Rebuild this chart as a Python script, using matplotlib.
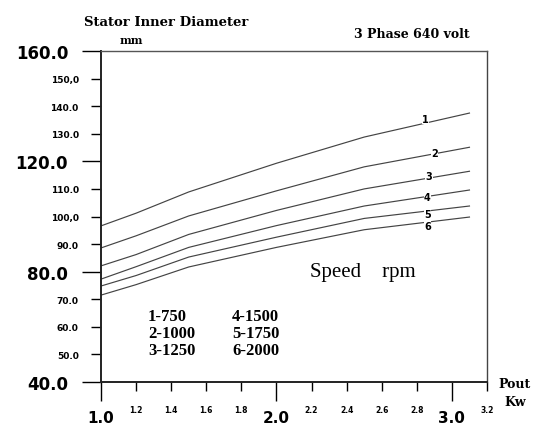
import matplotlib
matplotlib.use("Agg")
import matplotlib.pyplot as plt
import numpy as np

# ---- data ----
pout_kw = [1.0, 1.2, 1.5, 2.0, 2.5, 3.1]
d_750  = [96.6, 101.2, 108.9, 119.3, 128.8, 137.5]
d_1000 = [88.6, 93.0, 100.2, 109.3, 118.0, 125.1]
d_1250 = [82.1, 86.2, 93.5, 102.2, 110.0, 116.4]
d_1500 = [77.3, 81.8, 88.8, 96.7, 103.8, 109.6]
d_1750 = [74.8, 78.6, 85.3, 92.5, 99.3, 103.8]
d_2000 = [71.5, 75.3, 81.7, 88.8, 95.2, 99.8]
curve_ids = ["1", "2", "3", "4", "5", "6"]
legend_left = ["1-750", "2-1000", "3-1250"]
legend_right = ["4-1500", "5-1750", "6-2000"]

y_major = [40, 80, 120, 160]
y_major_labels = ["40.0", "80.0", "120.0", "160.0"]
y_minor = [50, 60, 70, 90, 100, 110, 130, 140, 150]
y_minor_labels = ["50.0", "60.0", "70.0", "90.0", "100,0", "110.0", "130.0", "140.0", "150,0"]
x_major = [1.0, 2.0, 3.0]
x_major_labels = ["1.0", "2.0", "3.0"]
x_minor = [1.2, 1.4, 1.6, 1.8, 2.2, 2.4, 2.6, 2.8, 3.2]
x_minor_labels = ["1.2", "1.4", "1.6", "1.8", "2.2", "2.4", "2.6", "2.8", "3.2"]

series = [d_750, d_1000, d_1250, d_1500, d_1750, d_2000]
label_pos = [(2.85, 135.4), (2.90, 123.0), (2.87, 114.7), (2.86, 107.1), (2.86, 100.9), (2.86, 96.6)]

fig = plt.figure(figsize=(5.38, 4.27), dpi=100)
ax = fig.add_axes([101/538, 1-383/427, (487-101)/538, (383-52)/427])
ax.set_xlim(1.0, 3.2)
ax.set_ylim(40, 160)

for ys in series:
    ax.plot(pout_kw, ys, color="#444444", lw=0.85)

for cid, (lx, ly) in zip(curve_ids, label_pos):
    ax.text(lx, ly, cid, fontsize=7, fontweight="bold", ha="center", va="center",
            family="DejaVu Sans",
            bbox=dict(facecolor="white", edgecolor="none", pad=0.3))

legend_y = [63.9, 57.8, 51.5]
for t, yy in zip(legend_left, legend_y):
    ax.text(1.268, yy, t, fontsize=12, family="Liberation Serif", fontweight="bold",
            ha="left", va="center")
for t, yy in zip(legend_right, legend_y):
    ax.text(1.747, yy, t, fontsize=12, family="Liberation Serif", fontweight="bold",
            ha="left", va="center")
ax.text(2.49, 79.9, "Speed    rpm", fontsize=15, family="Liberation Serif",
        ha="center", va="center")

# ticks
ax.set_yticks(y_major)
ax.set_yticklabels(y_major_labels, fontsize=12, fontweight="bold")
ax.set_yticks(y_minor, minor=True)
ax.set_yticklabels(y_minor_labels, minor=True, fontsize=6.5, fontweight="bold")
ax.set_xticks(x_major)
ax.set_xticklabels(x_major_labels, fontsize=11, fontweight="bold")
ax.set_xticks(x_minor, minor=True)
ax.set_xticklabels(x_minor_labels, minor=True, fontsize=5.5, fontweight="bold")

ax.tick_params(axis="y", which="major", length=13.7, width=1.0, pad=10)
ax.tick_params(axis="y", which="minor", length=7, width=1.0, pad=9)
ax.tick_params(axis="x", which="major", length=13.5, width=1.0, pad=6.5)
ax.tick_params(axis="x", which="minor", length=6.5, width=1.0, pad=10)

for s in ax.spines.values():
    s.set_linewidth(1.0)
    s.set_color("#222222")
ax.spines["left"].set_linewidth(1.4)
ax.spines["bottom"].set_linewidth(1.4)
ax.spines["top"].set_color("#555555")
ax.spines["right"].set_color("#444444")

fig.text(166/538, 1-23/427, "Stator Inner Diameter", fontsize=9.5, fontweight="bold",
         family="DejaVu Serif", ha="center", va="center")
fig.text(131/538, 1-40/427, "mm", fontsize=8, fontweight="bold",
         family="DejaVu Serif", ha="center", va="center")
fig.text(412/538, 1-35/427, "3 Phase 640 volt", fontsize=9, fontweight="bold",
         family="DejaVu Serif", ha="center", va="center")
fig.text(515/538, 1-385/427, "Pout", fontsize=9, fontweight="bold",
         family="DejaVu Serif", ha="center", va="center")
fig.text(515/538, 1-403/427, "Kw", fontsize=9, fontweight="bold",
         family="DejaVu Serif", ha="center", va="center")

fig.savefig("out.png", dpi=100)
